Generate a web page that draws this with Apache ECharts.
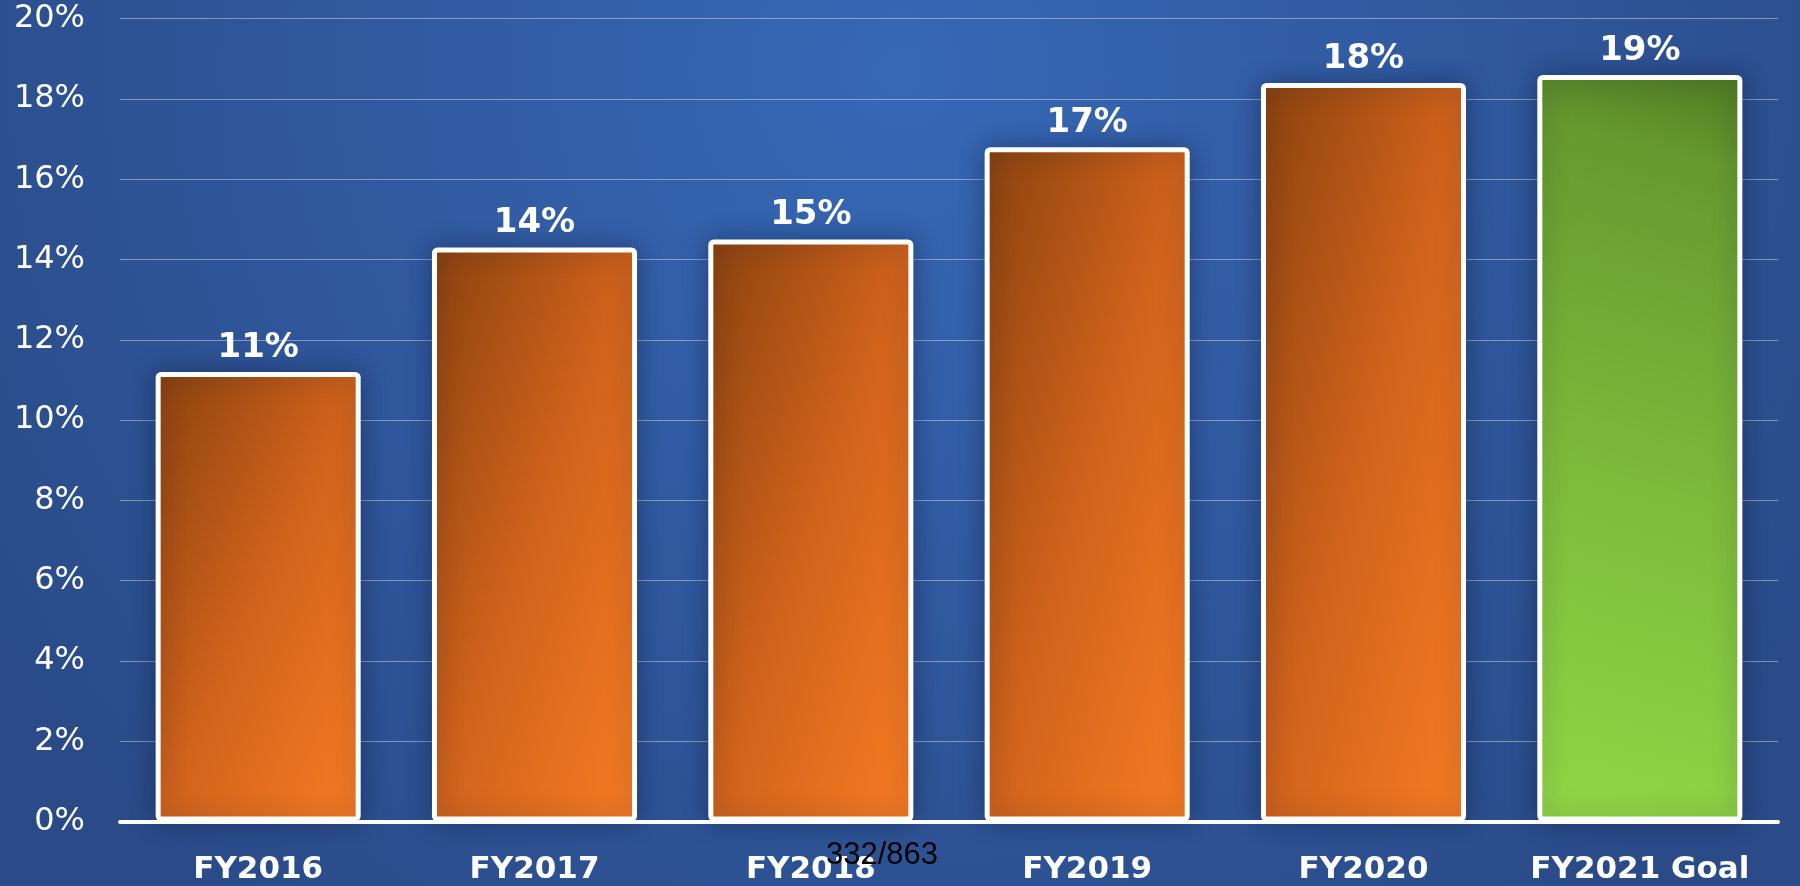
<!DOCTYPE html>
<html><head><meta charset="utf-8">
<script src="https://cdn.jsdelivr.net/npm/echarts@6/dist/echarts.min.js"></script>
<style>html,body{margin:0;padding:0;width:1800px;height:886px;overflow:hidden}#c{width:1800px;height:886px}</style>
</head><body><div id="c"></div>
<script>
const categories = ['FY2016', 'FY2017', 'FY2018', 'FY2019', 'FY2020', 'FY2021 Goal'];
const values = [11.2, 14.3, 14.5, 16.8, 18.4, 18.6];
const valueLabels = ['11%', '14%', '15%', '17%', '18%', '19%'];
const isGoal = [false, false, false, false, false, true];
const yMin = 0, yMax = 20, yStep = 2;
const pageNote = '332/863';

const ORANGE = [[0, '#8a420f'], [0.5, '#d1631c'], [1, '#f77c23']];
const GREEN = [[0, '#4f7b23'], [0.12, '#66992f'], [0.55, '#7dbb3b'], [1, '#91d746']];
const BAR_FRAC = 0.742;

function stops(a) { return a.map(s => ({ offset: s[0], color: s[1] })); }

const chart = echarts.init(document.getElementById('c'), null, { renderer: 'canvas' });

function buildData(sizes) {
  return values.map((v, i) => {
    let color;
    if (isGoal[i]) {
      color = { type: 'linear', x: 1, y: 0, x2: 0, y2: 1, colorStops: stops(GREEN) };
    } else {
      let a = 1, b = 1;
      if (sizes) {
        const w = sizes[i].w, h = sizes[i].h;
        const k = 2 * h * w / (h * h + w * w);
        a = k * h / w; b = k * w / h;
      }
      color = { type: 'linear', x: 0, y: 0, x2: a, y2: b, colorStops: stops(ORANGE) };
    }
    return { value: v, itemStyle: { color } };
  });
}

const option = {
  animation: false,
  backgroundColor: {
    type: 'radial', x: 0.5, y: 0.08, r: 1.2,
    colorStops: [{ offset: 0, color: '#3768b6' }, { offset: 1, color: '#2a4b88' }]
  },
  grid: { left: 120, right: 22, top: 18.7, bottom: 64.5, containLabel: false, outerBoundsMode: 'none' },
  xAxis: {
    type: 'category',
    data: categories,
    axisTick: { show: false },
    axisLine: { show: true, lineStyle: { color: '#ffffff', width: 4 } },
    axisLabel: {
      interval: 0,
      color: '#ffffff', fontFamily: 'DejaVu Sans', fontWeight: 'bold', fontSize: 31, margin: 33
    },
    z: 5
  },
  yAxis: {
    type: 'value', min: yMin, max: yMax, interval: yStep,
    axisLine: { show: false }, axisTick: { show: false },
    axisLabel: { formatter: '{value}%', color: '#ffffff', fontFamily: 'DejaVu Sans', fontSize: 32, margin: 35 },
    splitLine: { show: true, lineStyle: { color: 'rgba(255,255,255,0.4)', width: 1 } }
  },
  series: [{
    type: 'bar',
    barWidth: (BAR_FRAC * 100) + '%',
    data: buildData(null),
    itemStyle: {
      borderColor: '#ffffff', borderWidth: 5, borderRadius: 3,
      shadowBlur: 24, shadowColor: 'rgba(12,22,55,0.42)'
    },
    label: {
      show: true, position: 'top', distance: 7,
      color: '#ffffff', fontFamily: 'DejaVu Sans', fontWeight: 'bold', fontSize: 34,
      formatter: p => valueLabels[p.dataIndex]
    }
  }],
  graphic: [{
    type: 'text', x: 882, y: 855, z: 100,
    style: {
      text: pageNote, textAlign: 'center', textVerticalAlign: 'middle',
      font: '31px "Liberation Sans", Arial, sans-serif', fill: '#000000'
    }
  }]
};
chart.setOption(option);

const x0 = chart.convertToPixel({ gridIndex: 0 }, [0, 0]);
const x1 = chart.convertToPixel({ gridIndex: 0 }, [1, 0]);
const bandW = x1[0] - x0[0];
const sizes = values.map((v, i) => {
  const top = chart.convertToPixel({ gridIndex: 0 }, [i, v])[1];
  const bot = chart.convertToPixel({ gridIndex: 0 }, [i, 0])[1];
  return { w: bandW * BAR_FRAC, h: bot - top };
});
chart.setOption({ series: [{ data: buildData(sizes) }] });
</script>
</body></html>
